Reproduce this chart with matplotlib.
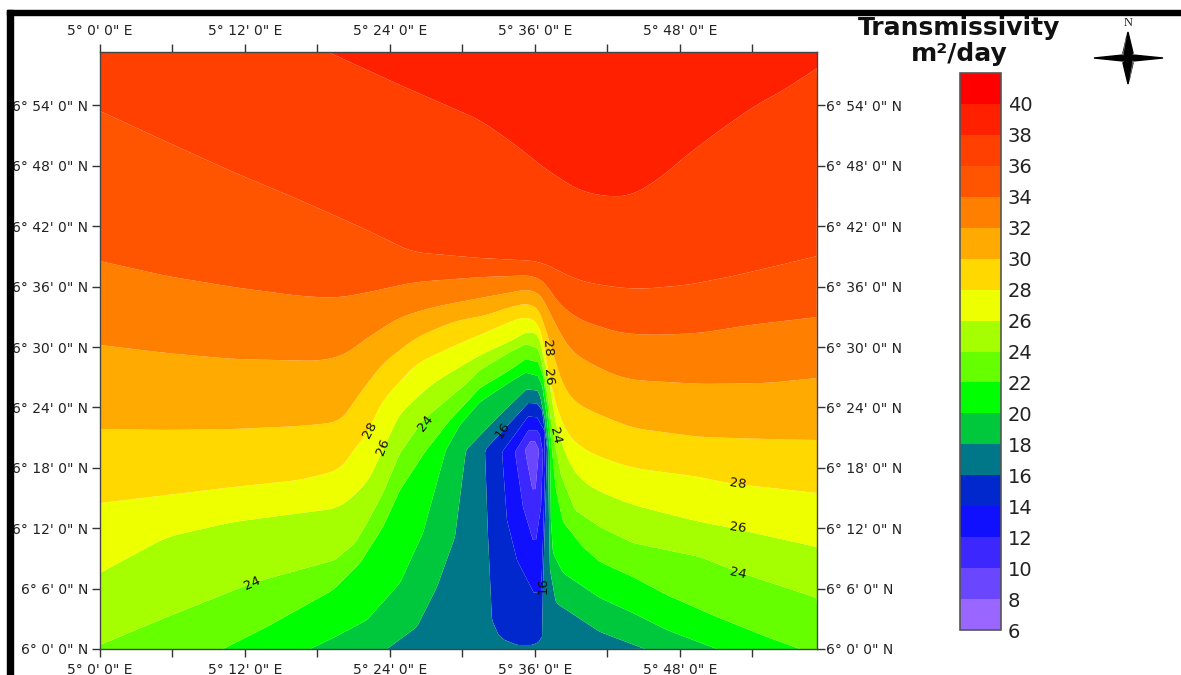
import numpy as np
import matplotlib
matplotlib.use("Agg")
import matplotlib.pyplot as plt
from matplotlib.patches import Rectangle
from matplotlib.transforms import ScaledTranslation

# contour lines: minutes past 5 deg E / minutes past 6 deg N
lon_38 = [18.87, 24.83, 31.45, 34.18, 36.99, 39.72, 42.21, 44.11, 46.34, 48.58, 51.31, 54.04, 56.85, 59.34]
lat_38 = [59.31, 56.03, 52.55, 50.27, 47.58, 45.50, 44.90, 45.10, 46.79, 49.07, 51.56, 53.84, 55.73, 57.72]
lon_36 = [0, 5.54, 11.01, 16.55, 22.10, 25.82, 31.45, 36.41, 37.49, 39.72, 42.46, 44.69, 48.58, 52.39, 56.28, 59.34]
lat_36 = [53.45, 50.37, 47.39, 44.60, 41.62, 39.44, 38.84, 38.54, 37.85, 36.56, 35.96, 35.76, 36.16, 37.05, 38.15, 39.04]
lon_34 = [0, 5.54, 11.01, 16.55, 19.45, 21.52, 26.07, 31.45, 36.17, 36.83, 38.07, 39.72, 43.03, 45.77, 49.66, 53.79, 59.34]
lat_34 = [38.54, 37.05, 35.96, 35.07, 34.87, 35.27, 36.46, 36.95, 37.15, 36.36, 34.17, 32.68, 31.39, 31.19, 31.39, 32.19, 32.98]
lon_32 = [0, 5.54, 11.01, 18.21, 20.28, 21.85, 24.83, 27.56, 31.45, 34.18, 35.83, 36.41, 36.99, 38.07, 39.14, 41.13, 43.03, 44.11, 49.66, 55.20, 59.34]
lat_32 = [30.20, 29.40, 28.81, 28.61, 29.21, 30.70, 32.98, 33.97, 34.87, 35.46, 35.86, 35.37, 33.97, 31.39, 29.40, 28.01, 27.02, 26.72, 26.33, 26.42, 26.92]
lon_30 = [0, 5.54, 11.01, 16.55, 19.86, 21.52, 23.42, 26.23, 29.54, 31.45, 34.18, 35.75, 36.25, 36.99, 37.66, 38.32, 39.31, 41.38, 44.11, 49.66, 55.20, 59.34]
lat_30 = [21.85, 21.76, 21.85, 22.15, 22.55, 25.43, 28.41, 31.00, 32.68, 32.98, 34.07, 34.47, 33.97, 31.39, 28.71, 26.23, 24.44, 23.25, 21.95, 21.06, 20.86, 20.76]
lon_28 = [0, 5.54, 11.01, 16.55, 19.86, 20.69, 22.10, 23.42, 26.23, 30.37, 31.45, 33.68, 35.42, 36.17, 36.66, 37.08, 37.74, 38.57, 39.72, 41.38, 44.11, 49.66, 51.89, 59.34]
lat_28 = [14.50, 15.30, 16.09, 16.79, 17.78, 19.27, 21.46, 24.74, 28.41, 30.70, 31.19, 32.39, 33.18, 32.68, 30.70, 27.72, 24.24, 21.56, 20.07, 19.07, 17.98, 17.09, 16.49, 15.50]
lon_26 = [0, 5.54, 11.01, 19.86, 22.10, 23.42, 24.83, 27.56, 31.45, 34.18, 35.83, 36.41, 36.66, 37.08, 37.41, 37.82, 38.90, 39.97, 41.38, 44.11, 49.66, 51.89, 59.34]
lat_26 = [7.55, 11.13, 12.62, 14.01, 16.49, 19.77, 23.44, 26.42, 29.21, 30.70, 31.89, 30.99, 29.01, 27.42, 24.74, 21.76, 18.28, 16.59, 15.60, 14.30, 12.62, 12.12, 10.13]
lon_24 = [0, 5.54, 12.60, 19.45, 21.11, 22.10, 23.42, 24.83, 26.73, 30.37, 31.45, 33.93, 35.59, 36.00, 36.50, 36.91, 37.32, 37.66, 38.15, 39.31, 41.38, 44.11, 49.66, 52.81, 59.34]
lat_24 = [0.40, 3.18, 6.56, 8.84, 10.53, 12.52, 15.50, 19.47, 22.75, 26.42, 27.72, 29.50, 30.50, 30.50, 28.91, 26.23, 22.75, 20.27, 17.29, 13.81, 12.12, 10.53, 9.14, 7.65, 5.07]
lon_22 = [10.18, 13.80, 19.28, 21.52, 23.42, 24.83, 26.90, 28.97, 31.45, 33.93, 35.59, 36.00, 36.66, 37.08, 37.41, 37.74, 38.32, 39.97, 41.38, 44.11, 46.92, 51.06, 55.20, 57.93]
lat_22 = [0, 2.19, 5.86, 8.54, 12.12, 15.80, 19.57, 22.75, 25.93, 27.72, 29.11, 29.21, 27.22, 23.74, 19.77, 15.80, 12.62, 10.13, 8.64, 7.15, 5.36, 3.18, 1.19, 0]
lon_20 = [17.38, 19.28, 22.10, 24.83, 26.73, 28.63, 29.79, 31.45, 33.93, 35.59, 36.00, 36.58, 36.91, 37.24, 37.32, 37.49, 38.32, 41.38, 44.11, 46.92, 51.06]
lat_20 = [0, 1.09, 2.88, 6.56, 11.52, 19.77, 22.25, 24.54, 26.52, 27.72, 27.72, 26.23, 23.74, 19.77, 12.82, 9.54, 7.55, 5.07, 3.58, 1.89, 0]
lon_18 = [23.75, 26.23, 27.89, 29.38, 30.29, 33.10, 35.83, 36.41, 36.83, 37.08, 37.16, 37.24, 37.74, 41.38, 45.10]
lat_18 = [0, 2.19, 6.16, 11.13, 19.77, 23.25, 26.42, 25.23, 22.75, 19.77, 12.82, 7.85, 4.57, 1.69, 0]
# the lows are closed rings
lon_16 = [31.86, 32.11, 32.44, 33.10, 34.51, 35.83, 36.58, 36.66, 36.91, 36.99, 36.58, 35.83, 31.86]
lat_16 = [19.77, 11.32, 2.88, 1.09, 0.40, 0.40, 0.89, 6.16, 16.09, 20.07, 23.74, 24.93, 19.77]
lon_14 = [35.83, 33.27, 33.68, 34.51, 36.00, 36.50, 36.66, 36.83, 36.75, 35.83]
lat_14 = [23.74, 19.57, 12.82, 8.84, 5.36, 5.36, 10.83, 17.78, 21.76, 23.74]
lon_12 = [35.83, 34.34, 35.01, 36.00, 36.50, 36.66, 36.41, 35.83]
lat_12 = [22.45, 19.57, 14.11, 10.13, 14.11, 19.47, 21.26, 22.45]
lon_10 = [35.83, 35.17, 35.75, 36.00, 36.33, 35.83]
lat_10 = [21.06, 19.77, 16.09, 15.30, 19.77, 21.06]

# valley floors inside the rings
lon_floor_9 = [35.80, 35.85, 35.92]
lat_floor_9 = [20.30, 18.00, 16.00]
lon_floor_11 = [35.97, 35.95]
lat_floor_11 = [14.80, 11.00]
lon_floor_13 = [36.00, 36.05]
lat_floor_13 = [9.60, 6.00]
lon_floor_15 = [36.20, 35.20]
lat_floor_15 = [4.90, 1.00]

# spot values where no contour line runs: map edges and the wide part of the 14-16 band
spot_lon = [0, 9.44, 18.87, 28.97, 42.21, 59.34, 0, 29.79, 34.51, 39.48, 59.34, 33.0, 33.0, 34.5, 32.8]
spot_lat = [59.31, 59.31, 59.31, 59.31, 59.31, 59.31, 0, 0, 0, 0, 0, 10.0, 5.0, 2.5, 17.0]
spot_val = [36.9, 37.4, 38.0, 38.8, 39.4, 38.3, 23.8, 17.0, 16.2, 17.0, 22.4, 15.0, 15.0, 15.0, 15.0]

contour_lines = [(38, lon_38, lat_38), (36, lon_36, lat_36), (34, lon_34, lat_34),
                 (32, lon_32, lat_32), (30, lon_30, lat_30), (28, lon_28, lat_28),
                 (26, lon_26, lat_26), (24, lon_24, lat_24), (22, lon_22, lat_22),
                 (20, lon_20, lat_20), (18, lon_18, lat_18), (16, lon_16, lat_16),
                 (14, lon_14, lat_14), (12, lon_12, lat_12), (10, lon_10, lat_10),
                 (9, lon_floor_9, lat_floor_9), (11, lon_floor_11, lat_floor_11),
                 (13, lon_floor_13, lat_floor_13), (15, lon_floor_15, lat_floor_15)]

levels = [6, 8, 10, 12, 14, 16, 18, 20, 22, 24, 26, 28, 30, 32, 34, 36, 38, 40, 42]
band_colors = ["#9966FF", "#6A47FF", "#3C28FF", "#1010FF", "#0028CC", "#007788",
               "#00C83C", "#00FF00", "#66FF00", "#A6FF00", "#EEFF00", "#FFD800",
               "#FFAA00", "#FF8000", "#FF5500", "#FF4000", "#FF2000", "#FF0000"]
bar_ticks = [6, 8, 10, 12, 14, 16, 18, 20, 22, 24, 26, 28, 30, 32, 34, 36, 38, 40]

lon_ticks = [0, 6, 12, 18, 24, 30, 36, 42, 48, 54]
lon_labels = ["5° 0' 0\" E", "", "5° 12' 0\" E", "", "5° 24' 0\" E", "", "5° 36' 0\" E", "", "5° 48' 0\" E", ""]
lat_ticks = [0, 6, 12, 18, 24, 30, 36, 42, 48, 54]
lat_labels = ["6° 0' 0\" N", "6° 6' 0\" N", "6° 12' 0\" N", "6° 18' 0\" N", "6° 24' 0\" N",
              "6° 30' 0\" N", "6° 36' 0\" N", "6° 42' 0\" N", "6° 48' 0\" N", "6° 54' 0\" N"]

# text, lon, lat, angle of the labels sitting on the contours
line_labels = [("28", 22.34, 21.76, 62), ("26", 23.42, 20.07, 68), ("24", 26.90, 22.45, 52),
               ("24", 12.60, 6.56, 25), ("28", 36.99, 29.90, -85), ("26", 37.08, 27.02, -85),
               ("24", 37.66, 21.16, -78), ("16", 33.35, 21.76, 55), ("16", 36.66, 6.26, 90),
               ("28", 52.81, 16.39, -8), ("26", 52.81, 12.02, -8), ("24", 52.81, 7.55, -12)]

W, H = 1181, 675
STEP = 0.05

def box(left, top, right, bottom):
    return [left / W, 1 - bottom / H, (right - left) / W, (bottom - top) / H]

# walk along a read line in small steps so the triangulation follows it,
# rounding the corners over a short window like the gridded original
def trace(x, y, window):
    x = np.asarray(x, dtype=float)
    y = np.asarray(y, dtype=float)
    s = np.concatenate([[0], np.cumsum(np.hypot(np.diff(x), np.diff(y)))])
    t = np.append(np.arange(0, s[-1], STEP), s[-1])
    xs, ys = np.interp(t, s, x), np.interp(t, s, y)
    n = int(window / STEP)
    if n > 1:
        kernel = np.ones(n) / n
        pad = n // 2
        xs = np.convolve(np.pad(xs, pad, mode="reflect", reflect_type="odd"), kernel, mode="same")[pad:-pad]
        ys = np.convolve(np.pad(ys, pad, mode="reflect", reflect_type="odd"), kernel, mode="same")[pad:-pad]
    return xs, ys

lon, lat, val = [np.array(spot_lon, dtype=float)], [np.array(spot_lat, dtype=float)], [np.array(spot_val)]
for level, xs, ys in contour_lines:
    if level >= 26:
        window = 2.5
    elif level >= 18:
        window = 0.8
    else:
        window = 0
    tx, ty = trace(xs, ys, window)
    lon.append(tx)
    lat.append(ty)
    val.append(np.full(len(tx), float(level)))
lon = np.concatenate(lon)
lat = np.concatenate(lat)
val = np.concatenate(val)

fig = plt.figure(figsize=(W / 100, H / 100), dpi=100)
ax = fig.add_axes(box(100, 52, 817, 649))
cf = ax.tricontourf(lon, lat, val, levels=levels, colors=band_colors, antialiased=True)
ax.set_xlim(0, 59.34)
ax.set_ylim(0, 59.31)

ink = "#222222"
ax.set_xticks(lon_ticks, lon_labels)
ax.set_yticks(lat_ticks, lat_labels)
ax.tick_params(axis="x", top=True, bottom=True, labeltop=True, labelbottom=True, length=6,
               width=1, color="#333333", labelsize=10, labelcolor=ink, pad=4)
ax.tick_params(axis="y", left=True, right=True, labelleft=True, labelright=True, length=6,
               width=1, color="#333333", labelsize=10, labelcolor=ink, pad=0.5)
# left labels sit a little further off than the right ones
shift = ScaledTranslation(-3 / 100, 0, fig.dpi_scale_trans)
for tick in ax.yaxis.get_major_ticks():
    tick.label1.set_transform(tick.label1.get_transform() + shift)
for spine in ax.spines.values():
    spine.set_color("#444444")
    spine.set_linewidth(1)

for text, x, y, angle in line_labels:
    ax.text(x, y, text, fontsize=9.5, rotation=angle, ha="center", va="center",
            rotation_mode="anchor", color="#111111")

cax = fig.add_axes(box(960, 73, 1001, 630))
bar = fig.colorbar(cf, cax=cax, ticks=bar_ticks, spacing="uniform")
bar.ax.tick_params(length=0, labelsize=14, pad=5, labelcolor=ink)
bar.outline.set_edgecolor("#555555")
bar.outline.set_linewidth(1.2)

fig.text(959 / W, 1 - 28 / H, "Transmissivity", fontsize=18, fontweight="bold", ha="center", va="center", color="#111111")
fig.text(959 / W, 1 - 54 / H, "m²/day", fontsize=18, fontweight="bold", ha="center", va="center", color="#111111")

# page frame and north arrow, in picture units
deco = fig.add_axes([0, 0, 1, 1], zorder=5)
deco.set_xlim(0, W)
deco.set_ylim(H, 0)
deco.axis("off")
deco.add_patch(Rectangle((7, 10), W - 7, 5, color="black"))
deco.add_patch(Rectangle((7, 10), 6, H - 10, color="black"))
deco.text(1128, 23, "N", fontsize=9, family="Liberation Serif", ha="center", va="center", color="#222222")
cx, cy = 1128, 58
deco.fill([cx - 34, cx - 5, cx, cx - 5], [cy, cy - 3, cy, cy + 3], color="black")
deco.fill([cx + 35, cx + 5, cx, cx + 5], [cy, cy + 3, cy, cy - 3], color="black")
deco.fill([cx, cx + 5, cx, cx - 5], [cy - 26, cy - 5, cy, cy - 5], color="black")
deco.fill([cx, cx - 5, cx, cx + 5], [cy + 26, cy + 5, cy, cy + 5], color="black")
deco.plot([cx - 5, cx - 2], [cy - 3, cy - 20], color="#777777", lw=0.6)
deco.plot([cx + 5, cx + 2], [cy + 3, cy + 20], color="#777777", lw=0.6)

fig.savefig("out.png", dpi=100)
